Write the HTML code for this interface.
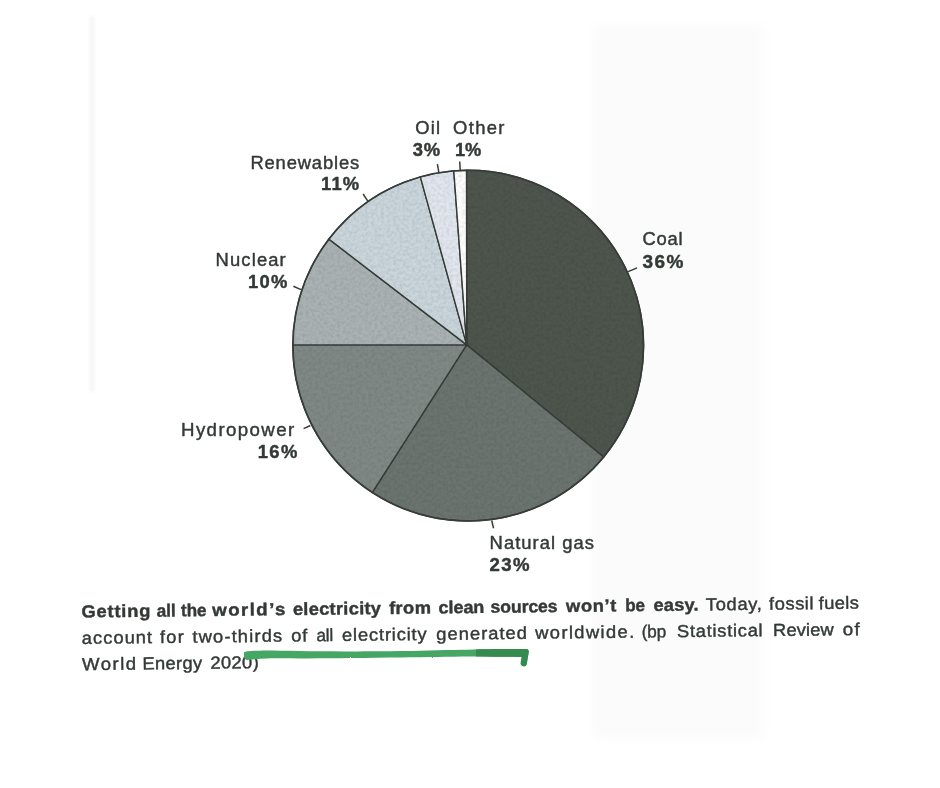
<!DOCTYPE html>
<html lang="en"><head><meta charset="utf-8"><title>Electricity sources</title>
<style>html,body{margin:0;padding:0;background:#fff}svg{display:block;filter:blur(0.45px)}</style></head>
<body>
<svg width="940" height="788" viewBox="0 0 940 788">
<rect x="0" y="0" width="940" height="788" fill="#ffffff"/>
<defs><filter id="bl" x="-20%" y="-20%" width="140%" height="140%"><feGaussianBlur stdDeviation="6"/></filter><filter id="bl2" x="-200%" y="-5%" width="500%" height="110%"><feGaussianBlur stdDeviation="1.5"/></filter><filter id="rough" x="-2%" y="-40%" width="104%" height="180%"><feTurbulence type="fractalNoise" baseFrequency="0.35" numOctaves="2" seed="3" result="n"/><feDisplacementMap in="SourceGraphic" in2="n" scale="1.6" xChannelSelector="R" yChannelSelector="G"/></filter><filter id="grain" x="0" y="0" width="100%" height="100%"><feTurbulence type="fractalNoise" baseFrequency="0.32" numOctaves="3" seed="11"/><feColorMatrix type="matrix" values="0 0 0 0 0  0 0 0 0 0  0 0 0 0 0  1.6 0 0 0 -0.55"/></filter><clipPath id="pc"><circle cx="468.2" cy="345.6" r="175.3"/></clipPath></defs>
<rect x="89" y="16" width="6" height="376" fill="#f7f7f7" filter="url(#bl2)"/>
<rect x="592" y="24" width="172" height="715" fill="#fbfbfb" filter="url(#bl)"/>
<path d="M466.7,344.9 L466.51,170.26 A175.35,175.35 0 0 1 603.65,456.96 Z" fill="#4d554d" stroke="#363d38" stroke-width="1.4" stroke-linejoin="round"/>
<path d="M466.7,344.9 L603.65,456.96 A175.35,175.35 0 0 1 372.40,492.47 Z" fill="#6c7470" stroke="#363d38" stroke-width="1.4" stroke-linejoin="round"/>
<path d="M466.7,344.9 L372.40,492.47 A175.35,175.35 0 0 1 292.85,344.90 Z" fill="#808886" stroke="#363d38" stroke-width="1.4" stroke-linejoin="round"/>
<path d="M466.7,344.9 L292.85,344.90 A175.35,175.35 0 0 1 328.87,239.13 Z" fill="#aab2b4" stroke="#363d38" stroke-width="1.4" stroke-linejoin="round"/>
<path d="M466.7,344.9 L328.87,239.13 A175.35,175.35 0 0 1 420.36,176.90 Z" fill="#cad5dc" stroke="#363d38" stroke-width="1.4" stroke-linejoin="round"/>
<path d="M466.7,344.9 L420.36,176.90 A175.35,175.35 0 0 1 453.78,170.84 Z" fill="#e2e6ee" stroke="#363d38" stroke-width="1.4" stroke-linejoin="round"/>
<path d="M466.7,344.9 L453.78,170.84 A175.35,175.35 0 0 1 466.51,170.26 Z" fill="#fefefe" stroke="#363d38" stroke-width="1.4" stroke-linejoin="round"/>
<g clip-path="url(#pc)" opacity="0.10"><rect x="290" y="168" width="356" height="356" filter="url(#grain)"/></g>
<circle cx="468.2" cy="345.6" r="175.35" fill="none" stroke="#363d38" stroke-width="1.6"/>
<line x1="437.4" y1="164.1" x2="438.8" y2="172.2" stroke="#363d38" stroke-width="1.5"/>
<line x1="459.75" y1="161.5" x2="460.2" y2="170.4" stroke="#363d38" stroke-width="1.5"/>
<line x1="491.7" y1="520.5" x2="493.6" y2="528.3" stroke="#363d38" stroke-width="1.5"/>
<line x1="293.4" y1="286.2" x2="301" y2="289.6" stroke="#363d38" stroke-width="1.5"/>
<line x1="303.6" y1="428.6" x2="310.4" y2="425.5" stroke="#363d38" stroke-width="1.5"/>
<line x1="628.1" y1="271.6" x2="637.1" y2="267.9" stroke="#363d38" stroke-width="1.5"/>
<line x1="363.1" y1="194.0" x2="367.8" y2="201.2" stroke="#363d38" stroke-width="1.5"/>
<g font-family="'Liberation Sans', sans-serif" font-size="17.5" fill="#333a36" stroke="#333a36" stroke-width="0.42" stroke-linejoin="round">
<text transform="translate(250.40,168.7) scale(1.0500,1)" letter-spacing="0.81">Renewables</text>
<text transform="translate(321.00,190.4) scale(1.0500,1)" letter-spacing="1.16" font-weight="bold">11%</text>
<text transform="translate(415.20,133.8) scale(1.0500,1)" letter-spacing="1.21">Oil</text>
<text transform="translate(412.80,156.2) scale(1.0500,1)" letter-spacing="0.81" font-weight="bold">3%</text>
<text transform="translate(453.00,133.8) scale(1.0517,1)" letter-spacing="1.30">Other</text>
<text transform="translate(455.00,156.2) scale(1.0442,1)" letter-spacing="-0.10" font-weight="bold">1%</text>
<text transform="translate(215.60,266.1) scale(1.0500,1)" letter-spacing="1.08">Nuclear</text>
<text transform="translate(248.00,287.9) scale(1.0500,1)" letter-spacing="1.25" font-weight="bold">10%</text>
<text transform="translate(181.00,436.1) scale(1.0684,1)" letter-spacing="1.30">Hydropower</text>
<text transform="translate(257.70,457.5) scale(1.0527,1)" letter-spacing="1.30" font-weight="bold">16%</text>
<text transform="translate(642.60,244.9) scale(1.0500,1)" letter-spacing="0.70">Coal</text>
<text transform="translate(642.60,267.5) scale(1.0846,1)" letter-spacing="1.30" font-weight="bold">36%</text>
<text transform="translate(489.60,548.5) scale(1.0500,1)" letter-spacing="0.98">Natural gas</text>
<text transform="translate(489.60,571.2) scale(1.0633,1)" letter-spacing="1.30" font-weight="bold">23%</text>
<g transform="rotate(-0.649 81.5 617.5)">
<text transform="translate(81.50,617.5) scale(1.0500,1)" letter-spacing="0.73" font-weight="bold">Getting</text>
<text transform="translate(156.81,617.5) scale(0.9800,1)" letter-spacing="-0.10" font-weight="bold">all</text>
<text transform="translate(181.04,617.5) scale(0.9800,1)" letter-spacing="-0.10" font-weight="bold">the</text>
<text transform="translate(212.26,617.5) scale(1.0708,1)" letter-spacing="1.30" font-weight="bold">world’s</text>
<text transform="translate(292.90,617.5) scale(1.0500,1)" letter-spacing="0.23" font-weight="bold">electricity</text>
<text transform="translate(389.20,617.5) scale(1.0500,1)" letter-spacing="0.31" font-weight="bold">from</text>
<text transform="translate(438.50,617.5) scale(1.0373,1)" letter-spacing="-0.10" font-weight="bold">clean</text>
<text transform="translate(490.60,617.5) scale(1.0088,1)" letter-spacing="-0.10" font-weight="bold">sources</text>
<text transform="translate(566.06,617.5) scale(1.0500,1)" letter-spacing="0.59" font-weight="bold">won’t</text>
<text transform="translate(625.19,617.5) scale(0.9800,1)" letter-spacing="-0.10" font-weight="bold">be</text>
<text transform="translate(653.50,617.5) scale(1.0500,1)" letter-spacing="0.12" font-weight="bold">easy.</text>
<text transform="translate(705.90,617.5) scale(1.0500,1)" letter-spacing="0.61">Today,</text>
<text transform="translate(769.10,617.5) scale(1.0500,1)" letter-spacing="0.50">fossil</text>
<text transform="translate(818.80,617.5) scale(1.0500,1)" letter-spacing="0.33">fuels</text>
<text transform="translate(81.50,643.9) scale(1.0500,1)" letter-spacing="0.96">account</text>
<text transform="translate(159.60,643.9) scale(1.0500,1)" letter-spacing="1.17">for</text>
<text transform="translate(192.10,643.9) scale(1.0500,1)" letter-spacing="1.08">two-thirds</text>
<text transform="translate(291.00,643.9) scale(1.0500,1)" letter-spacing="0.61">of</text>
<text transform="translate(316.11,643.9) scale(0.9800,1)" letter-spacing="-0.10">all</text>
<text transform="translate(341.80,643.9) scale(1.0500,1)" letter-spacing="0.77">electricity</text>
<text transform="translate(436.00,643.9) scale(1.0500,1)" letter-spacing="0.95">generated</text>
<text transform="translate(534.94,643.9) scale(1.0500,1)" letter-spacing="1.30">worldwide.</text>
<text transform="translate(641.46,643.9) scale(0.9800,1)" letter-spacing="-0.10">(bp</text>
<text transform="translate(676.70,643.9) scale(1.0500,1)" letter-spacing="0.68">Statistical</text>
<text transform="translate(772.80,643.9) scale(1.0500,1)" letter-spacing="0.11">Review</text>
<text transform="translate(842.40,643.9) scale(1.0797,1)" letter-spacing="1.30">of</text>
<text transform="translate(81.50,670.2) scale(1.0677,1)" letter-spacing="1.30">World</text>
<text transform="translate(141.80,670.2) scale(1.0500,1)" letter-spacing="0.30">Energy</text>
<text transform="translate(209.90,670.2) scale(1.0500,1)" letter-spacing="0.31">2020)</text>
</g>
</g>
<g filter="url(#rough)" stroke-linejoin="round">
<path d="M244.2,652 C252,650.6 262,650.4 272,650.5 C300,651.2 340,651.6 390,651.3 C420,651 440,650.2 462,649.8 C480,649.2 500,648.8 526,649 C528.6,649.2 529,650.6 528.6,653 L526.6,664.4 C526.2,666.4 523,666.8 521.6,665.6 C520.4,664.6 520.6,663 521,661 L521.8,656.9 C505,656.9 480,656.3 462,656.5 C440,656.9 420,657.3 390,657.5 C340,658.4 300,658.6 272,658.3 C262,658.4 252,659.6 247.4,660 C244.6,660.2 243.4,656 244.2,652 Z" fill="#45a764"/>
<path d="M476,649.4 C490,649 510,648.9 526,649 C528.6,649.2 529,650.6 528.6,653 L526.6,664.4 C526.2,666.4 523,666.8 521.6,665.6 C520.4,664.6 520.6,663 521,661 L521.8,656.9 C505,656.9 490,656.5 476,656.4 Z" fill="#348b4f"/>
</g>
</svg>
</body></html>
